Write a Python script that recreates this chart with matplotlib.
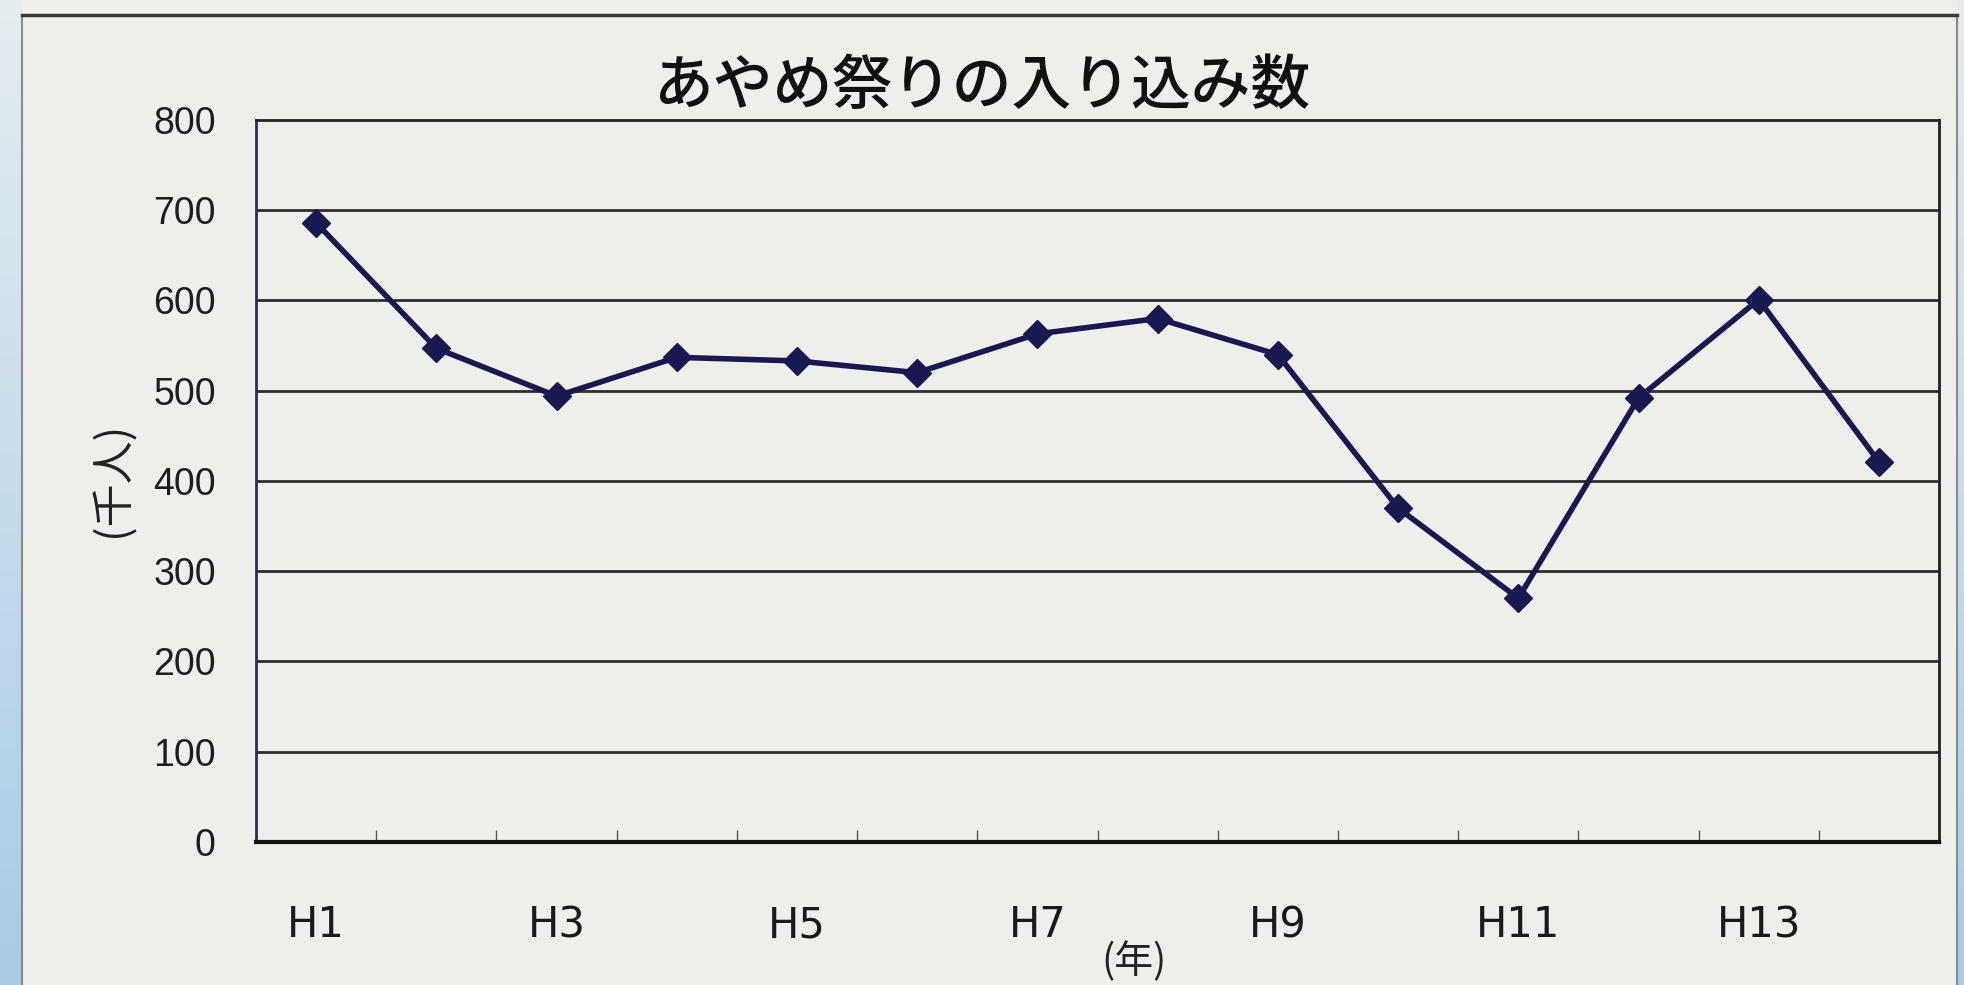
import numpy as np
import matplotlib
matplotlib.use("Agg")
import matplotlib.pyplot as plt
from matplotlib.patches import Rectangle
from matplotlib.colors import LinearSegmentedColormap

plt.rcParams['font.family'] = ['Liberation Sans', 'Noto Sans CJK JP', 'DejaVu Sans']

# data (thousand people, Heisei years)
years = ['H1', 'H2', 'H3', 'H4', 'H5', 'H6', 'H7', 'H8', 'H9', 'H10', 'H11', 'H12', 'H13', 'H14']
visitors = [686, 547, 494, 537, 533, 520, 563, 580, 540, 370, 270, 492, 601, 421]
y_ticks = [0, 100, 200, 300, 400, 500, 600, 700, 800]

TITLE = "あやめ祭りの入り込み数"
BG = '#eeeeea'
LINE = '#1a1850'

fig = plt.figure(figsize=(19.65, 9.85), dpi=100, facecolor=BG)

# scanned page edges: blue strips left and right
blue = LinearSegmentedColormap.from_list('edge', ['#e4ecf0', '#a9cbe4'])
left = fig.add_axes([0, 0, 0.011, 1])
left.imshow(np.linspace(0, 1, 50).reshape(-1, 1), aspect='auto', cmap=blue)
left.axis('off')
right = fig.add_axes([0.996, 0, 0.004, 1])
right.imshow(np.linspace(0, 1, 50).reshape(-1, 1), aspect='auto', cmap=blue)
right.axis('off')

# chart area frame
fig.patches.append(Rectangle((0.011, -0.01), 0.985, 0.995, transform=fig.transFigure,
                             facecolor='none', edgecolor='#8a8a86', linewidth=1.5))
fig.lines.append(plt.Line2D([0.011, 0.996], [0.985, 0.985], transform=fig.transFigure,
                            color='#3a3a3a', linewidth=2.5))

ax = fig.add_axes([0.1303, 0.1452, 0.8565, 0.733])
ax.set_facecolor(BG)

x = np.arange(len(years))
ax.plot(x, visitors, color=LINE, linewidth=4, marker='D', markersize=14,
        markerfacecolor=LINE, markeredgecolor=LINE, zorder=3)

ax.set_xlim(-0.5, len(years) - 0.5)
ax.set_ylim(0, 800)
ax.set_yticks(y_ticks)
ax.set_yticklabels([str(v) for v in y_ticks], fontsize=27, color='#1e1e1e')
ax.tick_params(axis='y', length=0, pad=29)

ax.set_xticks(x[::2])
ax.set_xticklabels(years[::2], fontsize=30, color='#1a1a1a', family=['DejaVu Sans'])
ax.set_xticks(np.arange(0.5, len(years) - 0.5, 1), minor=True)
ax.tick_params(axis='x', which='major', length=0, pad=45)
ax.tick_params(axis='x', which='minor', direction='in', length=9, width=1, color='#555555')

for v in y_ticks[1:-1]:
    ax.axhline(v, color='#2e2e2e', linewidth=2, zorder=1)

for side in ['top', 'right']:
    ax.spines[side].set_color('#222222')
    ax.spines[side].set_linewidth(2)
ax.spines['left'].set_color('#2a2a6a')
ax.spines['left'].set_linewidth(2)
ax.spines['bottom'].set_color('#111111')
ax.spines['bottom'].set_linewidth(3)

fig.text(0.50, 0.912, TITLE, ha='center', va='center', fontsize=43,
         family=['Noto Sans CJK JP'], weight='medium', color='#111111')
fig.text(0.058, 0.513, "(千人)", ha='center', va='center', rotation=90, fontsize=31,
         family=['Noto Sans CJK JP'], color='#222222')
fig.text(0.577, 0.023, "(年)", ha='center', va='center', fontsize=28,
         family=['Noto Sans CJK JP'], color='#222222')

fig.savefig("out.png", dpi=100, facecolor=BG)
